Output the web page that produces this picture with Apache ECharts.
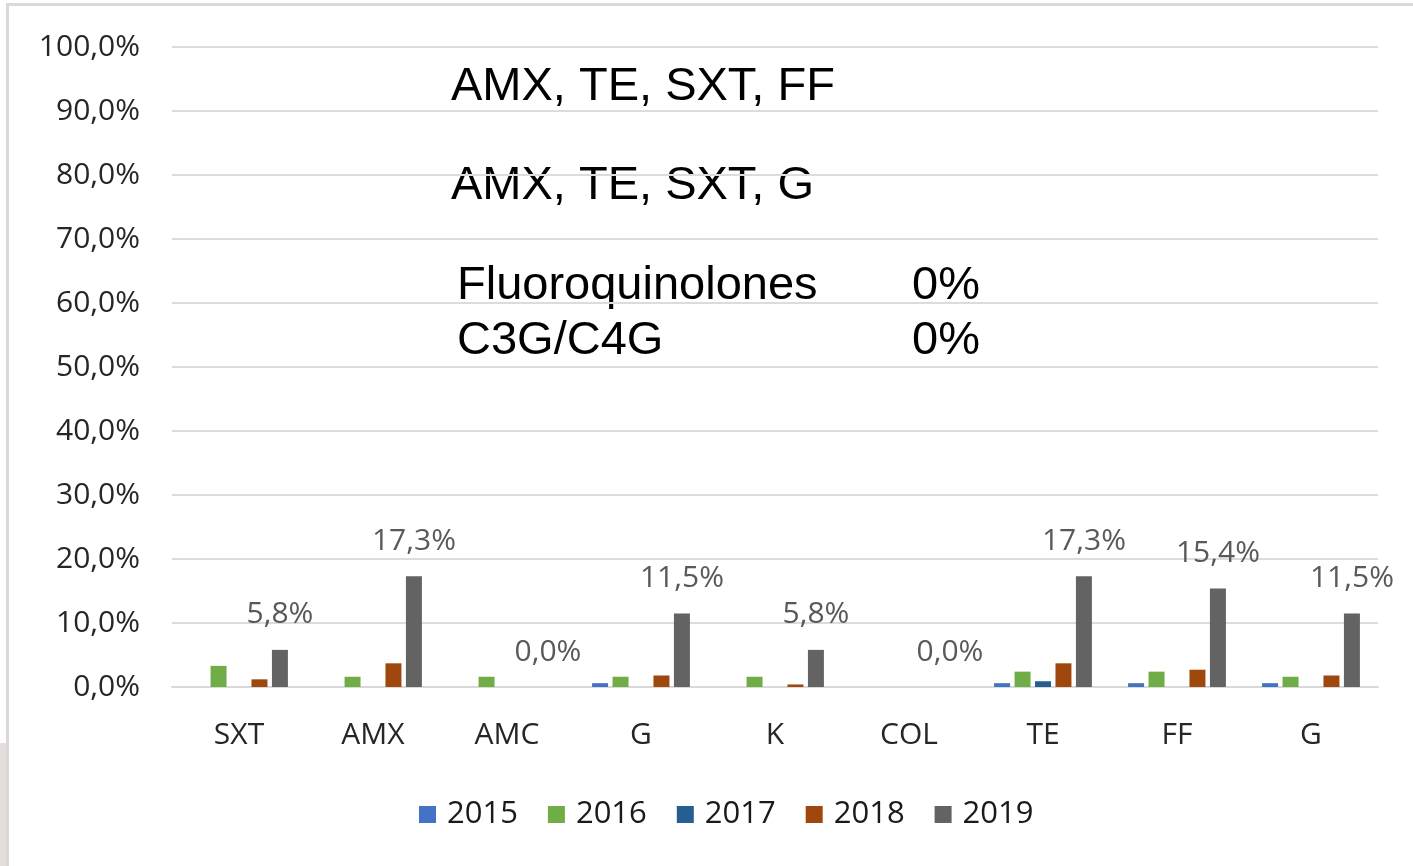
<!DOCTYPE html>
<html>
<head>
<meta charset="utf-8">
<script src="https://cdn.jsdelivr.net/npm/echarts@6/dist/echarts.min.js"></script>
<style>
  html, body { margin: 0; padding: 0; background: #fff; }
  #chart { width: 1413px; height: 866px; }
</style>
</head>
<body>
<div id="chart"></div>
<script>
// Categories (antibiotics) and resistance % per year
const categories = ['SXT', 'AMX', 'AMC', 'G', 'K', 'COL', 'TE', 'FF', 'G'];
const years = ['2015', '2016', '2017', '2018', '2019'];
const y2015 = [0, 0, 0, 0.6, 0, 0, 0.6, 0.6, 0.6];
const y2016 = [3.3, 1.6, 1.6, 1.6, 1.6, 0, 2.4, 2.4, 1.6];
const y2017 = [0, 0, 0, 0, 0, 0, 0.9, 0, 0];
const y2018 = [1.2, 3.7, 0, 1.8, 0.4, 0, 3.7, 2.7, 1.8];
const y2019 = [5.8, 17.3, 0, 11.5, 5.8, 0, 17.3, 15.4, 11.5];
const yTicks = { min: 0, max: 100, interval: 10 };

const notes = ['AMX, TE, SXT, FF', 'AMX, TE, SXT, G'];
const zeroRows = [['Fluoroquinolones', '0%'], ['C3G/C4G', '0%']];

const COLORS = ['#4472C4', '#70AD47', '#255E91', '#9E480E', '#636363'];
const FONT = '"Open Sans", sans-serif';
const NOTE_FONT = '"Liberation Sans", Arial, sans-serif';

const pct = v => v.toFixed(1).replace('.', ',') + '%';

const chart = echarts.init(document.getElementById('chart'));

const seriesData = [y2015, y2016, y2017, y2018, y2019];
const series = seriesData.map((d, i) => ({
  name: years[i],
  type: 'bar',
  data: d,
  barGap: '28%',
  barCategoryGap: '27%',
  itemStyle: { color: COLORS[i] },
  label: i === 4 ? {
    show: true,
    position: 'top',
    distance: 20,
    color: '#595959',
    fontFamily: FONT,
    fontSize: 30,
    formatter: p => pct(p.value)
  } : { show: false },
  silent: true
}));

const noteText = [
  { x: 451, y: 88, text: notes[0] },
  { x: 451, y: 187, text: notes[1] },
  { x: 457, y: 287, text: zeroRows[0][0] },
  { x: 912, y: 287, text: zeroRows[0][1] },
  { x: 457, y: 342, text: zeroRows[1][0] },
  { x: 912, y: 342, text: zeroRows[1][1] }
].map(t => ({
  type: 'text',
  left: t.x,
  top: t.y - 24,
  style: { text: t.text, fill: '#000', font: '47px ' + NOTE_FONT }
}));

const option = {
  backgroundColor: '#fff',
  animation: false,
  grid: { left: 172, right: 35, top: 47, bottom: 179, containLabel: false },
  legend: {
    data: years,
    left: 414,
    top: 794,
    icon: 'rect',
    itemWidth: 17,
    itemHeight: 17,
    itemGap: 30,
    textStyle: { color: '#1a1a1a', fontFamily: FONT, fontSize: 31, padding: [0, 0, 0, 6] }
  },
  xAxis: {
    type: 'category',
    data: categories,
    axisLine: { show: true, lineStyle: { color: '#d9d9d9', width: 2 } },
    axisTick: { show: false },
    axisLabel: { color: '#262626', fontFamily: FONT, fontSize: 30, margin: 33, interval: 0 }
  },
  yAxis: {
    type: 'value',
    min: yTicks.min,
    max: yTicks.max,
    interval: yTicks.interval,
    axisLine: { show: false },
    axisTick: { show: false },
    splitLine: { lineStyle: { color: '#dcdcdc', width: 2 } },
    axisLabel: { color: '#262626', fontFamily: FONT, fontSize: 30, margin: 32, formatter: v => pct(v) }
  },
  graphic: [
    // slide frame
    { type: 'rect', shape: { x: 6, y: 3, width: 1407, height: 3 }, style: { fill: '#d9d9d9' }, silent: true },
    { type: 'rect', shape: { x: 6, y: 3, width: 3, height: 863 }, style: { fill: '#d9d9d9' }, silent: true },
    { type: 'rect', shape: { x: 0, y: 743, width: 6, height: 123 }, style: { fill: '#e6dedd' }, silent: true }
  ].concat(noteText),
  series: series
};

chart.setOption(option);
</script>
</body>
</html>
